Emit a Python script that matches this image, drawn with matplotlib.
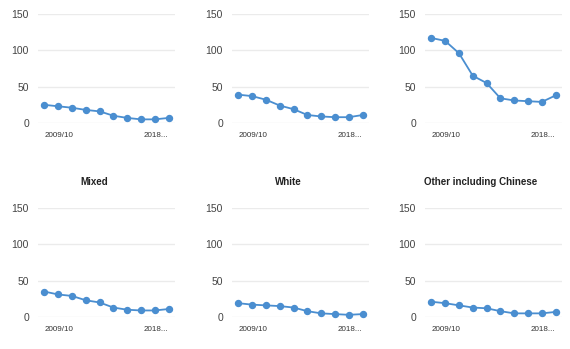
import matplotlib
matplotlib.use("Agg")
import matplotlib.pyplot as plt

years = ["2009/10", "2010/11", "2011/12", "2012/13", "2013/14",
         "2014/15", "2015/16", "2016/17", "2017/18", "2018/19"]
titles = ["", "", "", "Mixed", "White", "Other including Chinese"]
panel1 = [25, 23, 21, 18, 16, 10, 7, 5, 5, 7]
panel2 = [39, 37, 32, 24, 19, 11, 9, 8, 8, 11]
panel3 = [117, 113, 96, 65, 55, 34, 31, 30, 29, 38]
mixed = [35, 31, 29, 23, 20, 13, 10, 9, 9, 11]
white = [19, 17, 16, 15, 13, 8, 5, 4, 3, 4]
other = [21, 19, 16, 13, 12, 8, 5, 5, 5, 7]
series = [panel1, panel2, panel3, mixed, white, other]
yticks = [0, 50, 100, 150]
xlabels = ["2009/10", "2018..."]

plt.rcParams['font.family'] = ['Liberation Sans', 'DejaVu Sans']
W, H = 570, 349
fig = plt.figure(figsize=(W / 100, H / 100), dpi=100)

lefts = [38, 232, 425]
width = 137
tops = [14, 208]
height = 109
color = "#4a8ed0"

for i, vals in enumerate(series):
    r, c = divmod(i, 3)
    l = lefts[c]
    t = tops[r]
    ax = fig.add_axes([l / W, 1 - (t + height) / H, width / W, height / H])
    x = list(range(len(vals)))
    ax.plot(x, vals, color=color, lw=1.3, marker='o', ms=4.3, zorder=3, clip_on=False)
    ax.set_ylim(0, 150)
    ax.set_xlim(-0.46, len(vals) - 1 + 0.46)
    ax.set_yticks(yticks)
    ax.set_yticklabels([str(v) for v in yticks], fontsize=7.5, color="#444444")
    ax.set_xticks([0, len(vals) - 1])
    ax.set_xticklabels(xlabels, fontsize=5.8, color="#333333")
    labs = ax.get_xticklabels()
    labs[0].set_ha('left')
    labs[1].set_ha('right')
    ax.tick_params(axis='both', length=0)
    ax.tick_params(axis='y', pad=6.5)
    ax.tick_params(axis='x', pad=6.5)
    for s in ax.spines.values():
        s.set_visible(False)
    ax.grid(axis='y', color="#ebebeb", lw=1)
    ax.set_axisbelow(True)
    if titles[i]:
        cx = (l - 25 + l + width) / 2
        fig.text(cx / W, 1 - (t - 26) / H, titles[i], ha='center', va='center',
                 fontsize=7, fontweight='bold', color="#222222")

fig.savefig("out.png", dpi=100, facecolor="white")
